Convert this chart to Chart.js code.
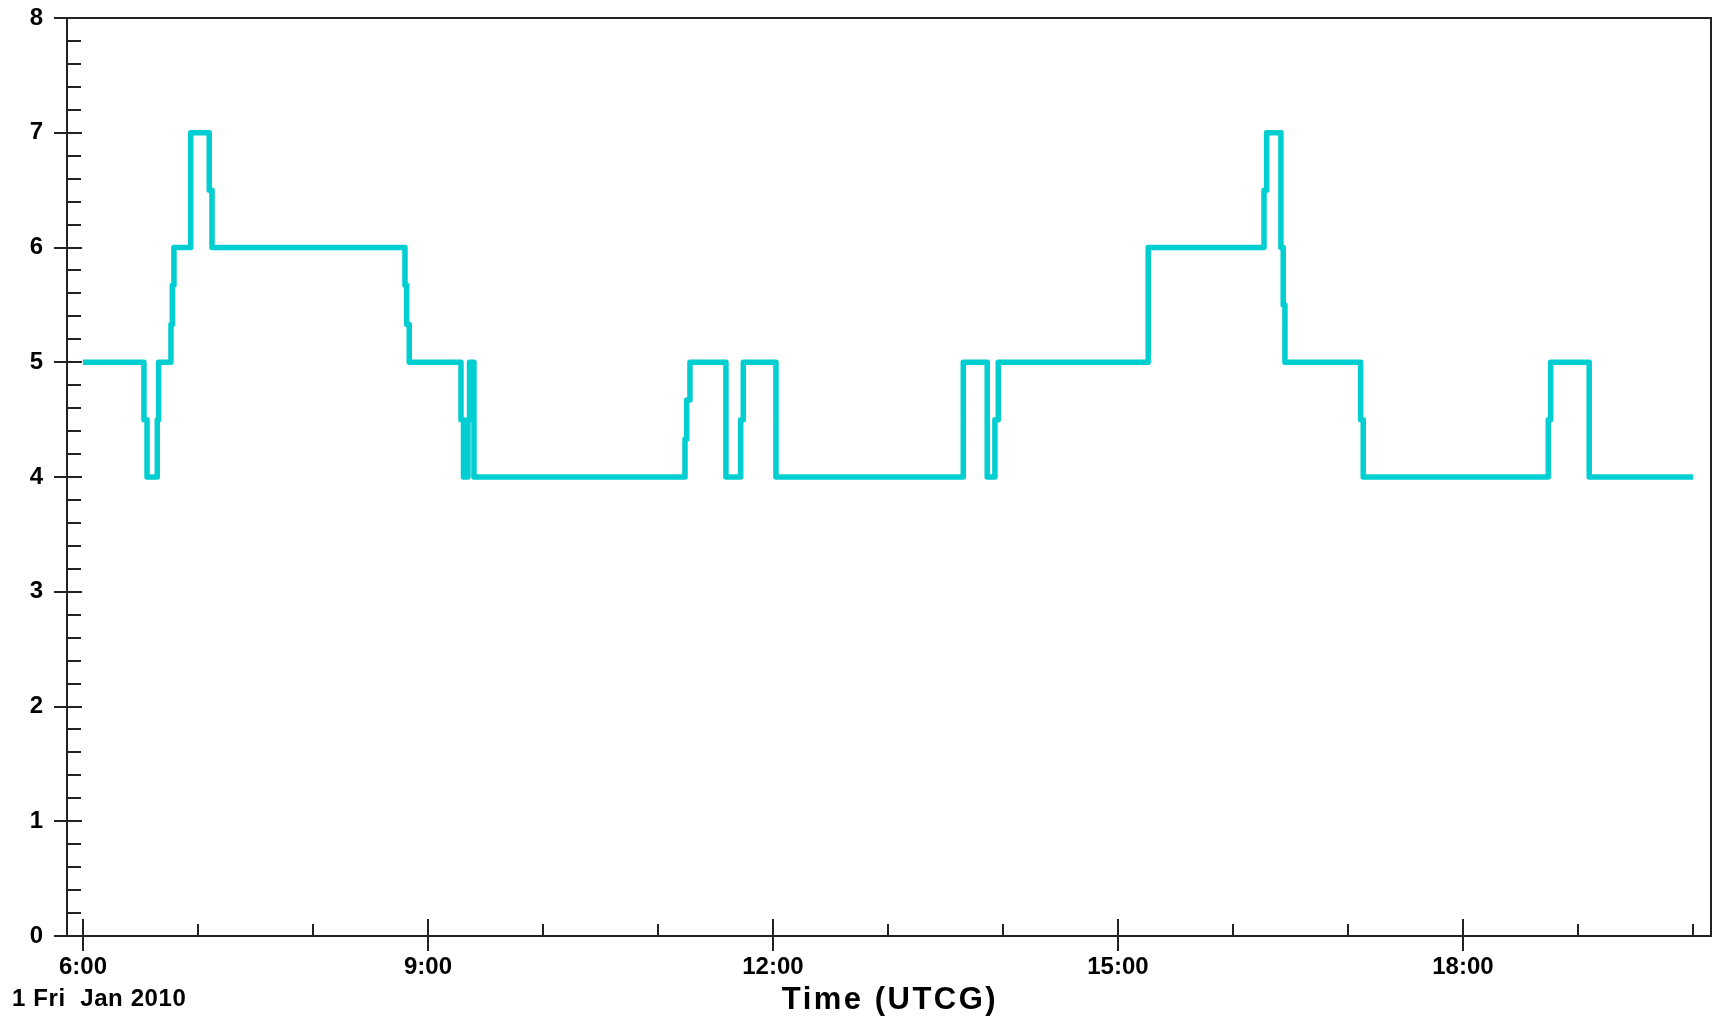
<!DOCTYPE html>
<html>
<head>
<meta charset="utf-8">
<script src="https://cdn.jsdelivr.net/npm/chart.js@4.4.1/dist/chart.umd.min.js"></script>
<style>
  html, body { margin: 0; padding: 0; background: #fff; }
  canvas { display: block; }
</style>
</head>
<body>
<canvas id="chart" width="1713" height="1023"></canvas>
<script>
// Step trace: each entry is the time (hours UTCG, 1 Jan 2010) where the count changes, and the new value.
const changeHours = [6.000, 6.530, 6.557, 6.646, 6.658, 6.765, 6.777, 6.791, 6.937, 7.098, 7.122,
  8.800, 8.815, 8.837, 9.287, 9.309, 9.348, 9.361, 9.400, 11.235, 11.250, 11.278, 11.591, 11.719,
  11.742, 12.026, 13.655, 13.863, 13.930, 13.959, 15.263, 16.270, 16.293, 16.417, 16.437, 16.452,
  17.110, 17.133, 18.742, 18.763, 19.098, 20.000];
const counts = [5, 4.5, 4, 4.5, 5, 5.33, 5.67, 6, 7, 6.5, 6,
  5.67, 5.33, 5, 4.5, 4, 4.5, 5, 4, 4.33, 4.67, 5, 4, 4.5,
  5, 4, 5, 4, 4.5, 5, 6, 6.5, 7, 6, 5.5, 5,
  4.5, 4, 4.5, 5, 4, 4];

const tickHours = [6, 9, 12, 15, 18];
const tickLabels = ['6:00', '9:00', '12:00', '15:00', '18:00'];
const minorHours = [7, 8, 10, 11, 13, 14, 16, 17, 19, 20];
const yTicks = [0, 1, 2, 3, 4, 5, 6, 7, 8];
const dateLabel = '1 Fri  Jan 2010';
const xTitle = 'Time (UTCG)';

const FONT = '"Liberation Sans", Arial, sans-serif';
const AXIS = '#222';

// axis box, tick marks (major ones cross the axis), date stamp and axis title
const frame = {
  id: 'frame',
  afterDatasetsDraw(chart) {
    const { ctx, chartArea: a, scales: { x, y } } = chart;
    ctx.save();
    ctx.strokeStyle = AXIS;
    ctx.lineWidth = 2;
    ctx.beginPath();
    ctx.rect(a.left, a.top, a.right - a.left, a.bottom - a.top);
    ctx.stroke();

    ctx.beginPath();
    for (let k = 0; k <= 40; k++) {
      const py = Math.round(y.getPixelForValue(k / 5));
      if (k % 5 === 0) { ctx.moveTo(a.left - 13, py); ctx.lineTo(a.left + 15, py); }
      else { ctx.moveTo(a.left, py); ctx.lineTo(a.left + 14, py); }
    }
    for (const h of tickHours) {
      const px = Math.round(x.getPixelForValue(h));
      ctx.moveTo(px, a.bottom - 17); ctx.lineTo(px, a.bottom + 15);
    }
    for (const h of minorHours) {
      const px = Math.round(x.getPixelForValue(h));
      ctx.moveTo(px, a.bottom - 12); ctx.lineTo(px, a.bottom);
    }
    ctx.stroke();

    ctx.fillStyle = '#000';
    ctx.textBaseline = 'alphabetic';
    ctx.font = 'bold 24px ' + FONT;
    ctx.textAlign = 'left';
    ctx.letterSpacing = '0.6px';
    ctx.fillText(dateLabel, 12, 1006);
    ctx.font = 'bold 31px ' + FONT;
    ctx.textAlign = 'center';
    ctx.letterSpacing = '2.5px';
    ctx.fillText(xTitle, (a.left + a.right) / 2 + 1, 1009);
    ctx.restore();
  }
};

const noPad = (s) => { s.paddingTop = 0; s.paddingBottom = 0; s.paddingLeft = 0; s.paddingRight = 0; };

new Chart(document.getElementById('chart'), {
  type: 'line',
  data: {
    datasets: [{
      data: changeHours.map((h, i) => ({ x: h, y: counts[i] })),
      stepped: 'before',
      borderColor: '#00CED1',
      borderWidth: 5.5,
      borderJoinStyle: 'round',
      pointRadius: 0,
      fill: false
    }]
  },
  options: {
    responsive: false,
    animation: false,
    layout: { padding: { top: 18, right: 2, left: 0, bottom: 0 } },
    plugins: { legend: { display: false }, tooltip: { enabled: false } },
    scales: {
      x: {
        type: 'linear', min: 5.861, max: 20.157,
        grid: { display: false, drawTicks: false },
        border: { display: false },
        afterBuildTicks: (s) => { s.ticks = tickHours.map((v) => ({ value: v })); },
        afterFit: (s) => { s.height = 87; noPad(s); },
        ticks: {
          autoSkip: false, maxRotation: 0, padding: 17, color: '#000',
          font: { family: FONT, size: 24, weight: 'bold' },
          callback: (v, i) => tickLabels[i]
        }
      },
      y: {
        min: 0, max: 8,
        grid: { display: false, drawTicks: false },
        border: { display: false },
        afterBuildTicks: (s) => { s.ticks = yTicks.map((v) => ({ value: v })); },
        afterFit: (s) => { s.width = 67; noPad(s); },
        ticks: {
          padding: 24, color: '#000',
          font: { family: FONT, size: 24, weight: 'bold' },
          callback: (v) => String(v)
        }
      }
    }
  },
  plugins: [frame]
});
</script>
</body>
</html>
